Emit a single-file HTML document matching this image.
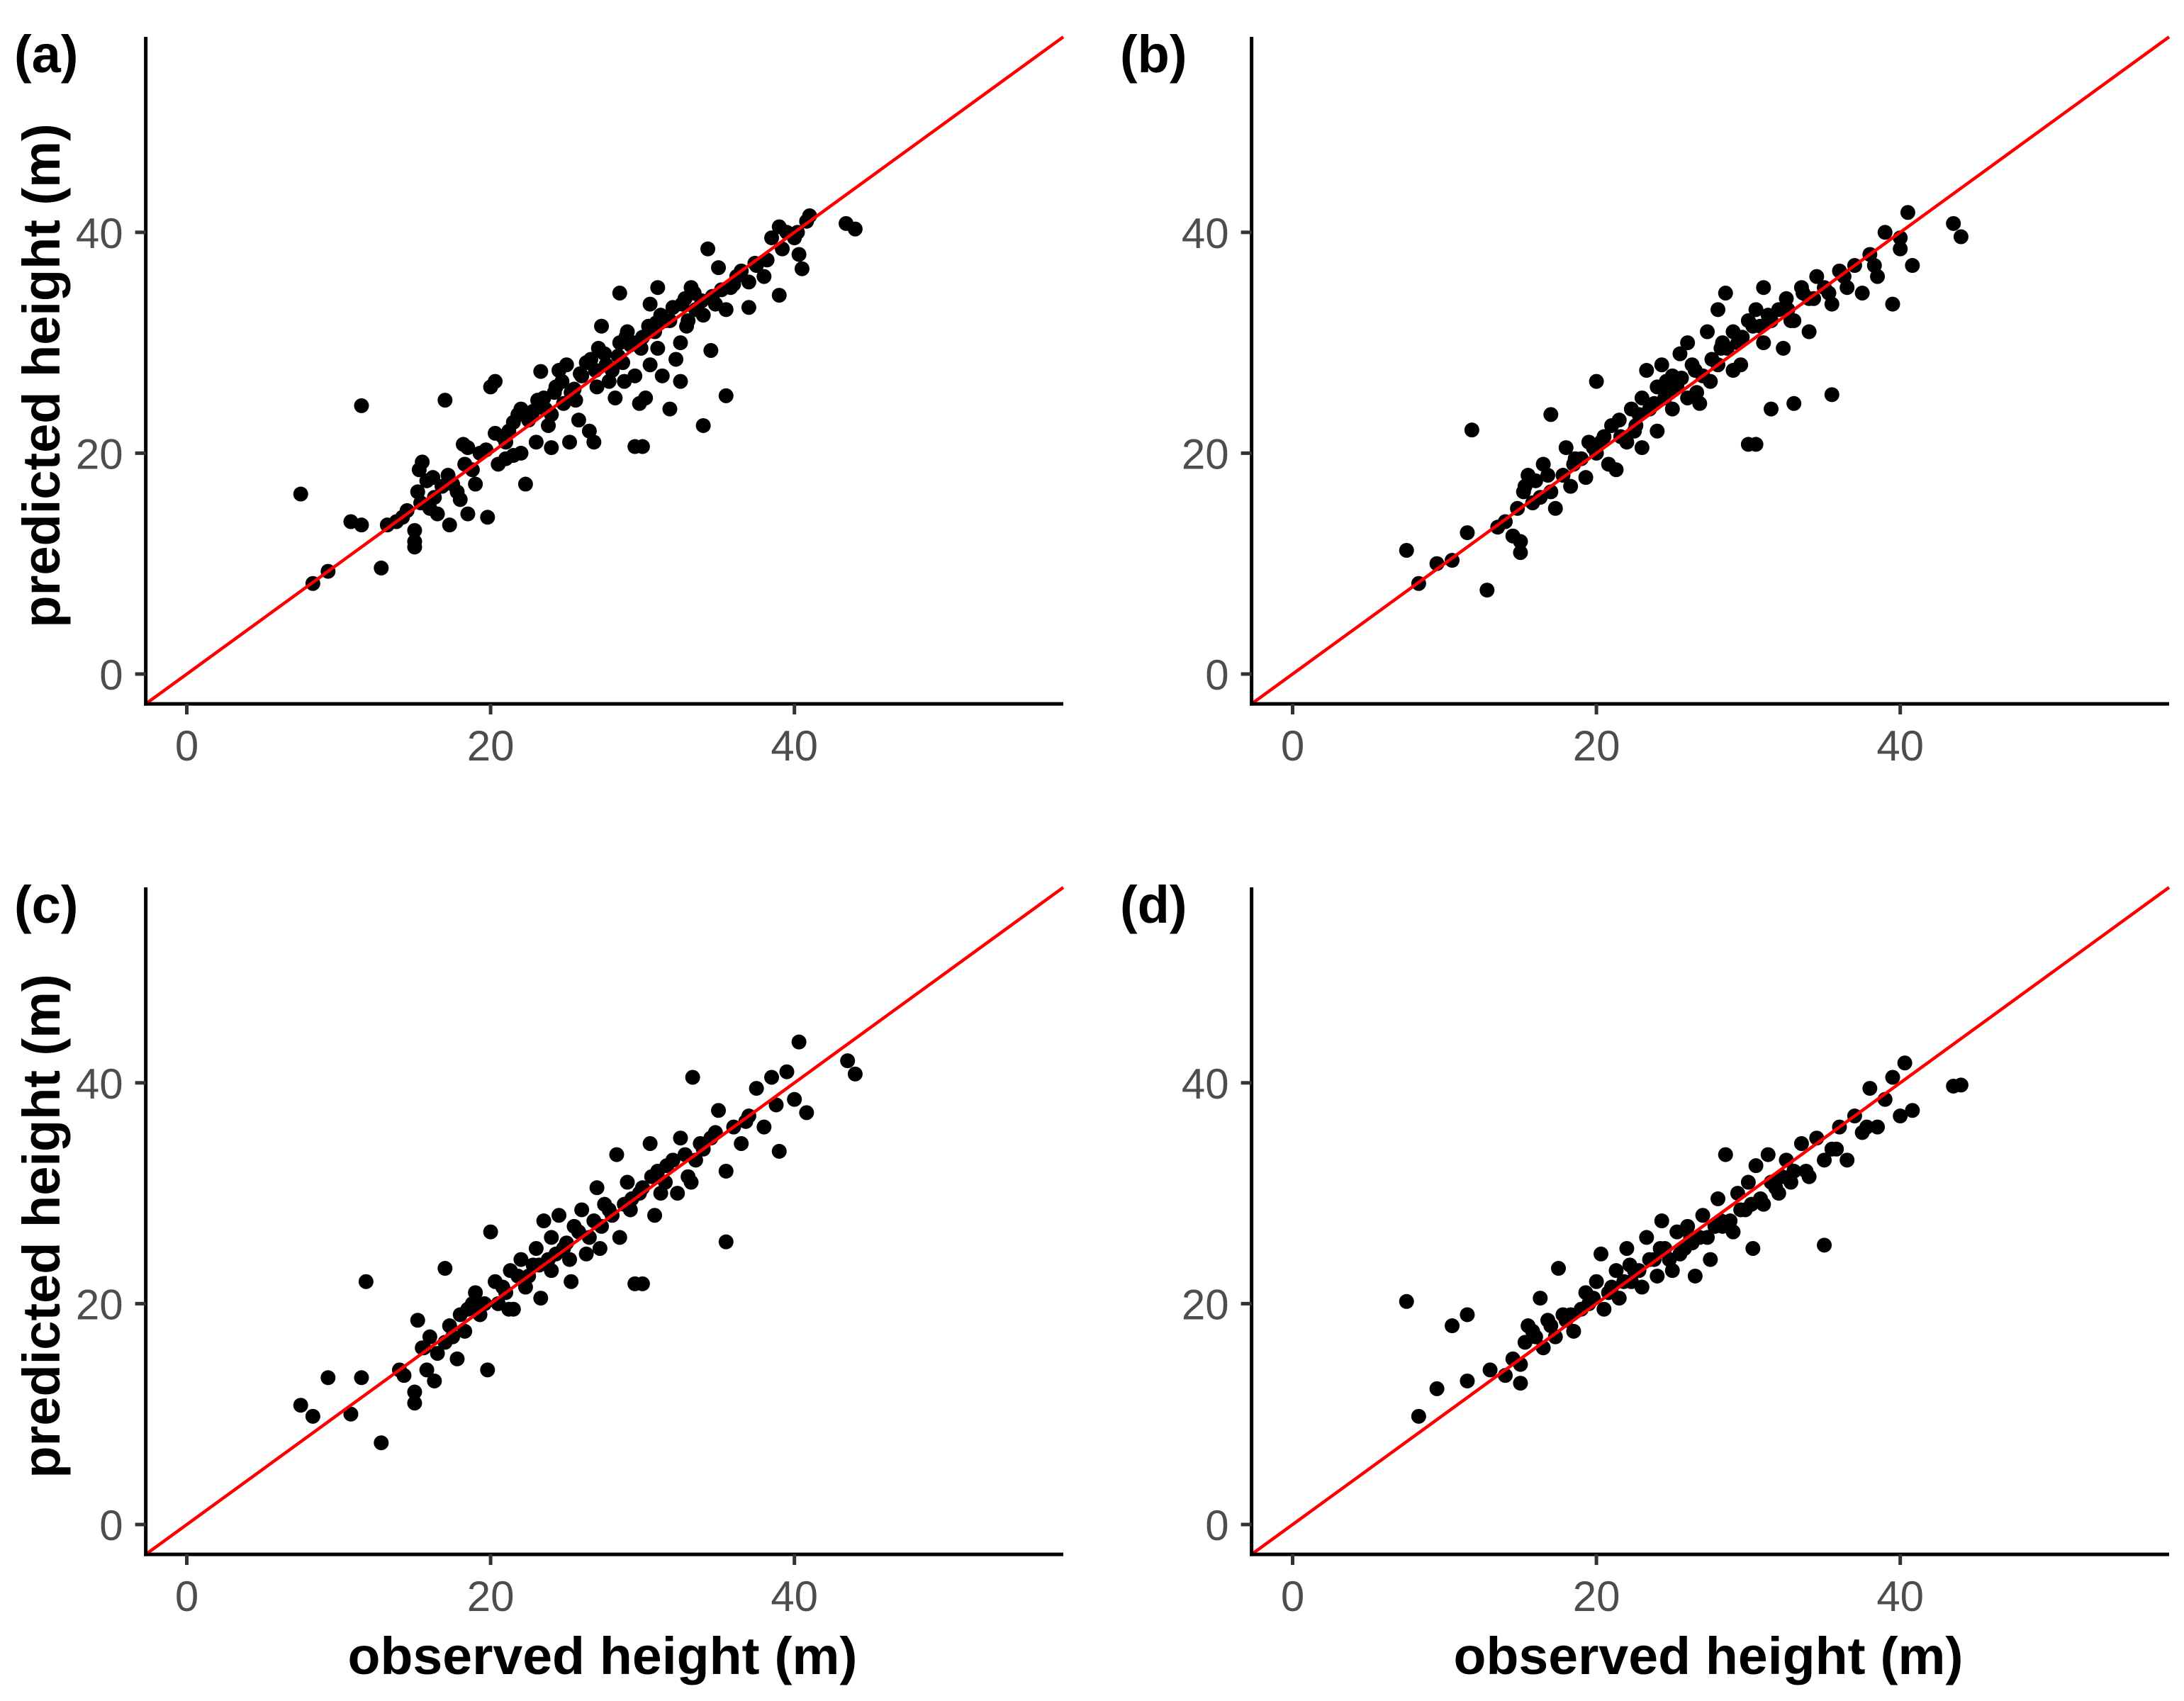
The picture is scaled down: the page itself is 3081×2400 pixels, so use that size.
<!DOCTYPE html>
<html><head><meta charset="utf-8"><style>html,body{margin:0;padding:0;background:#fff}svg{display:block}</style></head>
<body>
<svg id="fig" width="3081" height="2400" viewBox="0 0 3081 2400" xmlns="http://www.w3.org/2000/svg" font-family="'Liberation Sans', sans-serif">
<rect width="3081" height="2400" fill="#fff"/>
</svg>
<script>
const ticks = [0, 20, 40];
const tickLabels = ["0", "20", "40"];
const panelLabels = ["(a)", "(b)", "(c)", "(d)"];
const aX = [7.5,8.3,9.3,10.8,11.5,11.5,12.8,13.2,13.8,14.2,14.5,15,15,15,15.2,15.3,15.5,15.8,16,16.3,16.5,16.8,17,17.2,17.3,17.8,18,18.3,18.5,18.5,19,19.3,19.7,19.8,20,20.3,20.3,20.5,21,21,21.5,21.5,22,22,22.3,22.5,23,23.3,23.5,23.8,24,24,24.3,24.5,24.8,25,25.2,25.5,25.8,26,26.3,26.5,26.8,27,27.3,27.5,27.8,28,28.2,28.5,28.5,28.8,29,29.2,29.5,29.5,29.8,30,30,30.2,30.5,30.5,30.8,31,31,31.3,31.5,31.8,32,32.2,32.5,32.5,32.8,33,33.2,33.5,34,34,34.3,34.5,34.8,35,35.5,35.5,35.8,36,36.5,37,37,37.5,38,38.5,39,39,39.5,40,40.3,40.5,40.8,41,43.4,44,
 15.4,16.2,17.5,18.8,20.8,21.8,22.8,23.6,24.2,24.7,25.3,25.9,26.6,27.1,27.6,28.4,28.9,29.4,29.9,30.4,31.2,31.8,32.6,33.4,33.9,34.6,35.2,36.2,37.4,38.2,39.2,40.2,18.2,21.2,23.1,25.6,26.9,28.7,30.9,32.9];
const aY = [16.3,8.2,9.3,13.8,13.5,24.3,9.6,13.5,13.8,14.2,14.8,12,11.5,13,16.5,18.5,19.2,17.5,15,16,14.5,17,24.8,18,13.5,16.5,15.8,19,20.5,14.5,17.2,20,20.3,14.2,26,26.5,21.8,19,21,19.5,19.8,22.8,24,20,17.2,23,21,27.4,25,22.5,23.5,20.5,26,27.5,24.5,28,21,25.8,23,27,28.2,22,21,26,31.5,29,26.5,27.5,25,30,34.5,26.5,31,29.8,27,20.6,24.5,30.5,20.6,25,28,33.5,31,29.5,35,27,32,24,33.2,28.5,26.5,30,34,32,35,33,22.5,32.5,38.5,29.3,33.5,36.8,25.2,33,35,35.3,36.5,33.2,35.5,37,36,39.5,40.5,34.3,40,39.5,38,36.7,41,41.5,40.8,40.3,
 15.5,17.8,17.2,18.5,21.5,23.5,23.8,24,25.5,26.5,25.5,27.2,28.5,29.5,28,28.8,30.5,30,29.5,31.5,32.5,32,33.5,34.5,33.8,34.2,34.8,36,37.2,37.5,38.5,40,20.8,22,24.8,24.8,27.5,28.2,31.8,31.5];
const bX = [7.5,8.3,9.5,10.5,11.5,11.8,12.8,13.5,14,14.5,14.8,15,15,15.2,15.5,15.8,16,16.3,16.5,17,17,17.3,17.8,18,18.3,18.5,19,19.3,19.5,20,20,20.3,20.8,21,21.3,21.5,22,22.3,22.5,23,23,23.3,23.5,24,24,24.3,24.5,25,25,25.3,25.5,26,26,26.3,26.8,27,27.3,27.5,28,28,28.3,28.5,29,29,29.3,29.5,30,30,30.5,30.5,31,31,31.5,31.5,32,32.3,32.5,33,33,33.5,34,34,34.5,35,35.5,35.5,36,36.5,37,37.5,38,38.5,39,39.5,40,40,40.5,40.8,43.5,44,
 15.3,16.8,18.6,19.8,21.6,22.8,23.8,24.6,25.6,26.5,27.6,28.6,29.6,30.3,31.3,32.6,33.6,34.3,36.3,38.3,20.5,22.6,24.8,26.6,28.2,30.8,32.8,35.3];
const bY = [11.2,8.2,10,10.3,12.8,22.1,7.6,13.3,13.8,12.5,15,11,12,16.5,18,15.5,17.5,16,19,23.5,16.5,15,18,20.5,17,19,19.5,17.8,21,26.5,20,21,19,22.5,18.5,23,21,24,22,25,20.5,27.5,24,26,22,28,25,24,27,26,29,25,30,28,24.5,27,31,26.5,28,33,30,34.5,31,27.5,30,28,32,20.8,33,20.8,30,35,24,32,33,29.5,34,24.5,32,35,34,31,36,35,25.3,33.5,36.5,35,37,34.5,38,36,40,33.5,38.5,39.5,41.8,37,40.8,39.6,
 17,18,19.5,20.5,21.5,23.5,24.5,26.5,26.8,27.5,28.5,29.5,30.5,31.5,32.5,33,34.5,34,36,37,21.5,22.5,25.5,25.5,29.5,31.5,32,34.5];
const cX = [7.5,8.3,9.3,10.8,11.5,11.8,12.8,14,14.3,15,15,15.2,15.5,15.8,16,16.3,16.5,17,17,17.3,17.8,18,18.3,18.8,19,19.3,19.8,20,20.3,20.5,21,21.3,21.5,22,22.3,22.5,23,23.3,23.5,24,24,24.3,24.5,25,25.3,25.5,26,26.3,26.5,27,27.3,27.5,28,28.3,28.5,29,29.3,29.5,30,30,30.5,30.8,31,31.5,32,32.3,32.5,33,33.3,33.5,34,34.5,35,35.5,35.5,36,36.5,37,37.5,38,38.5,39,39.5,40,40.3,40.8,43.5,44,
 15.6,17.5,18.5,19.6,20.8,21.8,22.8,23.8,24.8,25.8,26.8,27.8,28.8,29.8,30.6,31.6,32.8,33.8,34.8,36.8,38.8,21.2,23.2,25.2,27.2,29.2,31.2,33.2];
const cY = [10.8,9.8,13.3,10,13.3,22,7.4,14,13.5,11,12,18.5,16,14,17,13,15.5,23.2,16.5,18,15,19,17.5,20,21,19,14,26.5,22,20,21,23,19.5,24,21.5,22.5,25,20.5,27.5,23,26,24.5,28,25.5,22,27,28.5,24.5,26,30.5,27,29,28,33.5,26,31,29.5,21.8,30.5,21.8,34.5,28,32,31,33,30,35,31.5,40.5,33,34,35,37.5,25.6,32,36,34.5,37,39.5,36,40.5,33.8,41,38.5,43.7,37.3,42,40.8,
 16,17,19.5,20,21.5,22.5,23.5,24,25,26.5,27.5,28.5,29,30,31.5,32.5,33.5,34.5,35.5,36.5,38,19.5,23.5,24,25,28.5,30,31];
const dX = [7.5,8.3,9.5,10.5,11.5,11.5,13,14,14.5,15,15,15.3,15.5,16,16.3,16.5,17,17.3,17.5,17.8,18,18.5,19,19.3,19.5,20,20.3,20.5,21,21.3,21.5,22,22.3,22.5,23,23.3,23.5,24,24.3,24.5,25,25.3,25.5,26,26.3,26.5,27,27.3,27.5,28,28.3,28.5,29,29.3,29.5,30,30.3,30.5,31,31.3,31.5,32,32.5,33,33.5,34,34.5,35,35,35.5,36,36.5,37,37.5,38,38.5,39,39.5,40,40.3,40.8,43.5,44,
 15.8,16.8,18.3,19.8,20.8,21.8,22.8,23.8,24.8,25.8,26.8,27.8,28.8,29.8,30.8,31.8,32.8,33.8,35.8,37.8,22.2,24.2,26.2,28.2,30.2,32.2];
const dY = [20.2,9.8,12.3,18,19,13,14,13.5,15,12.8,14.5,16.5,18,17,20.5,16,18,17,23.2,19,18.5,17.5,19.5,21,20,22,24.5,19.5,21.5,23,20.5,25,22,23,21.5,26,24,22.5,27.5,25,23,26.5,24.5,27,25.5,22.5,28,26,24,29.5,27,33.5,26.5,30,28.5,31,25,32.5,29,33.5,31,30,33,32,34.5,31.5,35,25.3,33,34,36,33,37,35.5,39.5,36,38.5,40.5,37,41.8,37.5,39.7,39.8,
 17.5,18.5,19,20.5,21,22,23,24,24,25,26,27,27.5,28.5,29.5,30.5,31,32,34,36,23.5,25,26,27.5,29,31.5];

const NS = 'http://www.w3.org/2000/svg';
const svg = document.getElementById('fig');
function mk(tag, attrs, parent) {
  const e = document.createElementNS(NS, tag);
  for (const k in attrs) e.setAttribute(k, attrs[k]);
  (parent || svg).appendChild(e);
  return e;
}
const datasets = [[aX, aY], [bX, bY], [cX, cY], [dX, dY]];
const offs = [[0, 0], [1560, 0], [0, 1200], [1560, 1200]];
const vmin = -2.7, vmax = 57.7;
for (let p = 0; p < 4; p++) {
  const ox = offs[p][0], oy = offs[p][1];
  const sx = v => ox + 263.5 + v * 21.43;
  const sy = v => oy + 951 - v * 15.58;
  const g = mk('g', {});
  
  
  const xs = datasets[p][0], ys = datasets[p][1];
  for (let i = 0; i < xs.length; i++) {
    const c = mk('circle', {cx: sx(xs[i]), cy: sy(ys[i]), r: 10.5, fill: '#000'}, g);
    
    
  }
  const line = mk('line', {x1: sx(vmin), y1: sy(vmin), x2: sx(vmax), y2: sy(vmax), stroke: '#ff0000', 'stroke-width': 4.5}, g);
  
  
  const ya = mk('line', {x1: sx(vmin), y1: sy(vmax), x2: sx(vmin), y2: sy(vmin) + 2.5, stroke: '#000', 'stroke-width': 5}, g);
  
  
  const xa = mk('line', {x1: sx(vmin) - 2.5, y1: sy(vmin), x2: sx(vmax), y2: sy(vmin), stroke: '#000', 'stroke-width': 5}, g);
  
  
  for (let t = 0; t < ticks.length; t++) {
    const v = ticks[t];
    mk('line', {x1: sx(vmin), y1: sy(v), x2: sx(vmin) - 15, y2: sy(v), stroke: '#333', 'stroke-width': 5}, g);
    mk('line', {x1: sx(v), y1: sy(vmin), x2: sx(v), y2: sy(vmin) + 15, stroke: '#333', 'stroke-width': 5}, g);
    const yl = mk('text', {x: sx(vmin) - 32, y: sy(v) + 22, 'text-anchor': 'end', 'font-size': 60, fill: '#4d4d4d'}, g);
    yl.textContent = tickLabels[t];
    
    
    const xl = mk('text', {x: sx(v), y: oy + 1073, 'text-anchor': 'middle', 'font-size': 60, fill: '#4d4d4d'}, g);
    xl.textContent = tickLabels[t];
    
    
  }
  const pl = mk('text', {x: ox + 20, y: oy + 102, 'font-size': 74, 'font-weight': 'bold', fill: '#000'}, g);
  pl.textContent = panelLabels[p];
  
  
  if (p % 2 === 0) {
    const yt = mk('text', {x: 0, y: 0, transform: `translate(84,${oy + 530}) rotate(-90)`, 'text-anchor': 'middle', 'font-size': 74, 'font-weight': 'bold', fill: '#000'}, g);
    yt.textContent = 'predicted height (m)';
    
    
  }
  if (p >= 2) {
    const xt = mk('text', {x: ox + 850, y: 2362, 'text-anchor': 'middle', 'font-size': 74, 'font-weight': 'bold', fill: '#000', textLength: 719, lengthAdjust: 'spacingAndGlyphs'}, g);
    xt.textContent = 'observed height (m)';
    
    
  }
}
</script>
</body></html>
